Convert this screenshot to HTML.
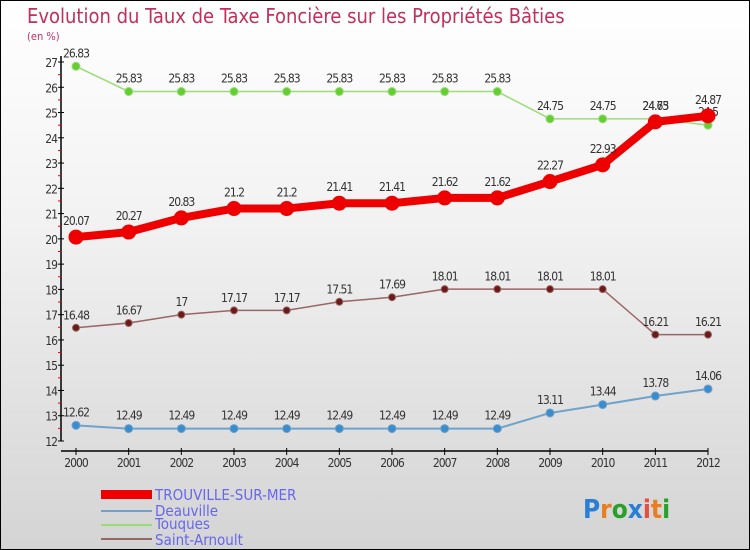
<!DOCTYPE html>
<html><head><meta charset="utf-8"><style>
body{margin:0}
#c{width:750px;height:550px;position:relative;overflow:hidden;box-sizing:border-box;border:1px solid #000;background:linear-gradient(#ffffff,#f2f2f2 40%,#d4d4d4)}
text{font-family:"DejaVu Sans Condensed","Liberation Sans",sans-serif}
</style></head><body>
<div id="c">
<svg id="s" width="750" height="550">
<text x="26" y="22" font-size="20" fill="#c0305a" style="font-weight:200">Evolution du Taux de Taxe Foncière sur les Propriétés Bâties</text>
<text x="26" y="39" font-size="11" fill="#c0306a">(en %)</text>
<g id="g"></g>
<g>
<rect x="100" y="489" width="51" height="9" fill="#ee0000"/>
<text x="154" y="499" font-size="15" fill="#6666ee">TROUVILLE-SUR-MER</text>
<line x1="100" y1="510" x2="151" y2="510" stroke="#6fa3cc" stroke-width="2"/>
<text x="154" y="515" font-size="15" fill="#6666ee">Deauville</text>
<line x1="100" y1="524" x2="151" y2="524" stroke="#99dd77" stroke-width="2"/>
<text x="154" y="528" font-size="15" fill="#6666ee">Touques</text>
<line x1="100" y1="538" x2="151" y2="538" stroke="#996666" stroke-width="2"/>
<text x="154" y="544" font-size="15" fill="#6666ee">Saint-Arnoult</text>
</g>
<text x="582" y="517" font-size="26" font-weight="bold"><tspan fill="#2a7fd4">P</tspan><tspan fill="#e67e22">r</tspan><tspan fill="#2aa02a">o</tspan><tspan fill="#2a7fd4">x</tspan><tspan fill="#e74c3c">i</tspan><tspan fill="#e67e22">t</tspan><tspan fill="#2aa02a">i</tspan></text>
</svg></div>
<script>
const years=[2000,2001,2002,2003,2004,2005,2006,2007,2008,2009,2010,2011,2012];
const yTicks=[12,13,14,15,16,17,18,19,20,21,22,23,24,25,26,27];
const trouville=[20.07,20.27,20.83,21.2,21.2,21.41,21.41,21.62,21.62,22.27,22.93,24.63,24.87];
const deauville=[12.62,12.49,12.49,12.49,12.49,12.49,12.49,12.49,12.49,13.11,13.44,13.78,14.06];
const touques=[26.83,25.83,25.83,25.83,25.83,25.83,25.83,25.83,25.83,24.75,24.75,24.75,24.5];
const saintArnoult=[16.48,16.67,17,17.17,17.17,17.51,17.69,18.01,18.01,18.01,18.01,16.21,16.21];
const NS="http://www.w3.org/2000/svg",g=document.getElementById('g');
const X=i=>75+i*(707-75)/(years.length-1);
const Y=v=>61+(27-v)*(440-61)/15;
function mk(t,a,name){const e=document.createElementNS(NS,t);for(const k in a)e.setAttribute(k,a[k]);


g.appendChild(e);return e;}
mk('line',{x1:60,y1:55,x2:60,y2:440,stroke:'#000','stroke-width':1.5},'y-axis');
mk('line',{x1:60,y1:450,x2:707,y2:450,stroke:'#000','stroke-width':1.5},'x-axis');
yTicks.forEach(v=>{const y=Y(v);
mk('line',{x1:57,y1:y,x2:63,y2:y,stroke:'#000'},'y-tick');
if(v<27)mk('line',{x1:57,y1:Y(v+0.5),x2:60,y2:Y(v+0.5),stroke:'#e00'},'y-minor-tick');
const t=mk('text',{x:56,y:y+5,'font-size':12,fill:'#333','text-anchor':'end','letter-spacing':'-1'},'y-tick-label');t.textContent=v;});
years.forEach((yr,i)=>{mk('line',{x1:X(i),y1:447,x2:X(i),y2:454,stroke:'#000'},'x-tick');
const t=mk('text',{x:X(i),y:466,'font-size':12,fill:'#333','text-anchor':'middle','letter-spacing':'-1'},'x-tick-label');t.textContent=yr;});
function series(d,col,w,r,name,fill){
mk('polyline',{points:d.map((v,i)=>X(i)+','+Y(v)).join(' '),fill:'none',stroke:col,'stroke-width':w,'stroke-linejoin':'round'},name+'-line');
d.forEach((v,i)=>{mk('circle',{cx:X(i),cy:Y(v),r:r,fill:fill,stroke:col},name+'-point');
const t=mk('text',{x:X(i),y:Y(v)-(r+5),'font-size':12,fill:'#333','text-anchor':'middle','letter-spacing':'-1'},name+'-value-label');t.textContent=v;});}
series(deauville,'#6fa3cc',2,4,'deauville','#3a8ccc');
series(touques,'#99dd77',1.5,4,'touques','#66cc33');
series(saintArnoult,'#996666',1.5,3.5,'saint-arnoult','#6b1a1a');
series(trouville,'#ee0000',8,7,'trouville','#ee0000');
</script>
</body></html>
